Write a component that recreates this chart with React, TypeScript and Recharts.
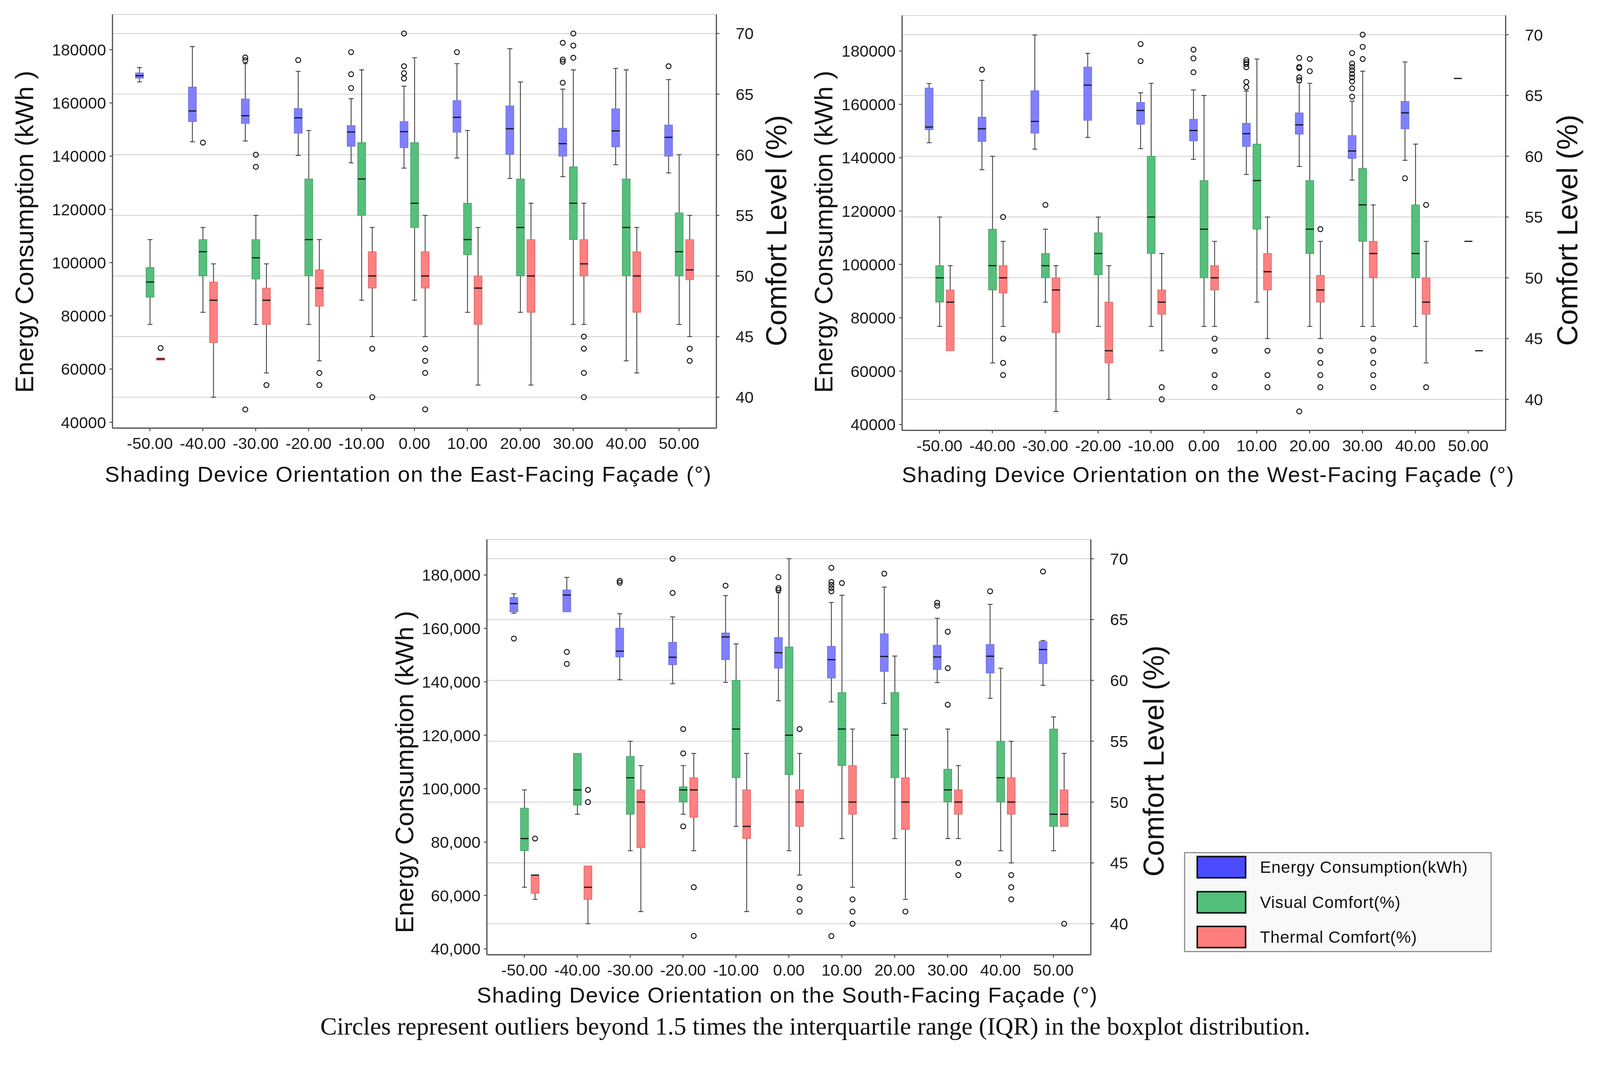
import React from 'react';
import { ComposedChart, Bar, XAxis, YAxis, CartesianGrid, Legend } from 'recharts';

// ---------- shared categories / ticks ----------
const ANGLES = ['-50.00', '-40.00', '-30.00', '-20.00', '-10.00', '0.00', '10.00', '20.00', '30.00', '40.00', '50.00'];
const ENERGY_TICKS = [40000, 60000, 80000, 100000, 120000, 140000, 160000, 180000];
const COMFORT_TICKS = [40, 45, 50, 55, 60, 65, 70];
const ENERGY_DOMAIN: [number, number] = [37800, 193300];
const COMFORT_DOMAIN: [number, number] = [37.45, 71.58];

// box = [lower whisker, Q1, median, Q3, upper whisker]
// ---------- East-facing ----------
const EAST_ENERGY = [
  [167900, 169300, 170250, 171300, 173300],
  [145400, 153000, 157000, 166000, 181200],
  [145700, 152300, 155200, 161500, 174800],
  [140300, 148650, 154400, 157900, 171900],
  [137500, 143700, 149100, 151500, 161600],
  [135500, 143200, 149200, 153000, 166300],
  [139300, 149000, 154600, 160900, 174800],
  [131600, 140700, 150300, 158900, 180400],
  [132300, 140000, 144700, 150500, 165200],
  [136800, 143500, 149500, 157800, 173000],
  [133700, 140000, 147100, 151700, 168800],
];
const EAST_ENERGY_OUT = [[], [], [177100, 176000, 44800], [176100], [179100, 170800, 165600], [186100, 173800, 171200, 169200], [179100], [], [182600, 176300, 175500, 167600], [], [173800]];
const EAST_VISUAL = [
  [46.0, 48.25, 49.5, 50.7, 53.0],
  [47.0, 50.0, 52.0, 53.0, 54.0],
  [46.0, 49.75, 51.5, 53.0, 55.0],
  [46.0, 50.0, 53.0, 58.0, 62.0],
  [48.0, 55.0, 58.0, 61.0, 67.0],
  [48.0, 54.0, 56.0, 61.0, 68.0],
  [47.0, 51.75, 53.0, 56.0, 62.0],
  [47.0, 50.0, 54.0, 58.0, 66.0],
  [46.0, 53.0, 56.0, 59.0, 67.0],
  [43.0, 50.0, 54.0, 58.0, 67.0],
  [46.0, 50.0, 52.0, 55.2, 60.0],
];
const EAST_VISUAL_OUT = [[], [61], [60, 59], [], [], [], [], [], [70, 69, 68], [], []];
const EAST_THERMAL = [
  [43.05, 43.05, 43.15, 43.25, 43.25],
  [40.0, 44.5, 48.0, 49.5, 51.0],
  [42.0, 46.0, 48.0, 49.0, 51.0],
  [43.0, 47.5, 49.0, 50.5, 53.0],
  [45.0, 49.0, 50.0, 52.0, 54.0],
  [45.0, 49.0, 50.0, 52.0, 55.0],
  [41.0, 46.0, 49.0, 50.0, 54.0],
  [41.0, 47.0, 50.0, 53.0, 56.0],
  [46.0, 50.0, 51.0, 53.0, 56.0],
  [42.0, 47.0, 50.0, 52.0, 54.0],
  [45.0, 49.7, 50.5, 53.0, 55.0],
];
const EAST_THERMAL_OUT = [[44.05], [], [41], [42, 41], [44, 40], [44, 43, 42, 39], [], [], [45, 44, 42, 40], [], [44, 43]];

// ---------- West-facing ----------
const WEST_ENERGY = [
  [145600, 150500, 151500, 166100, 167800],
  [135500, 146100, 150800, 155200, 169000],
  [143200, 149200, 153600, 165100, 186000],
  [147600, 154000, 167200, 174000, 179100],
  [143400, 152500, 157700, 160700, 164300],
  [139400, 146300, 150200, 154400, 165400],
  [133700, 144200, 149000, 152900, 165000],
  [136700, 148800, 152300, 156800, 168100],
  [131600, 139700, 142500, 148300, 161200],
  [139000, 150800, 156800, 161100, 175900],
  [169700, 169700, 169700, 169700, 169700],
];
const WEST_ENERGY_OUT = [[], [173000], [], [], [182600, 176200], [180500, 177200, 172000], [176600, 175800, 175100, 173900, 168400, 166400], [177400, 174000, 173600, 170100, 169000, 44900], [179200, 175300, 174000, 172800, 171400, 170100, 168600, 166000, 162900], [132300], []];
const WEST_VISUAL = [
  [46.0, 48.0, 50.0, 51.0, 55.0],
  [43.0, 49.0, 51.0, 54.0, 60.0],
  [48.0, 50.0, 51.0, 52.0, 54.0],
  [46.0, 50.25, 52.0, 53.7, 55.0],
  [46.0, 52.0, 55.0, 60.0, 66.0],
  [46.0, 50.0, 54.0, 58.0, 65.0],
  [48.0, 54.0, 58.0, 61.0, 68.0],
  [46.0, 52.0, 54.0, 58.0, 66.0],
  [46.0, 53.0, 56.0, 59.0, 67.0],
  [46.0, 50.0, 52.0, 56.0, 61.0],
  [53.0, 53.0, 53.0, 53.0, 53.0],
];
const WEST_VISUAL_OUT = [[], [], [56], [], [], [], [], [68, 67], [70, 69, 68], [], []];
const WEST_THERMAL = [
  [44.0, 44.0, 48.0, 49.0, 51.0],
  [46.0, 48.75, 50.0, 51.0, 53.0],
  [39.0, 45.5, 49.0, 50.0, 51.0],
  [40.0, 43.0, 44.0, 48.0, 51.0],
  [44.0, 47.0, 48.0, 49.0, 52.0],
  [46.0, 49.0, 50.0, 51.0, 53.0],
  [45.0, 49.0, 50.5, 52.0, 55.0],
  [45.0, 48.0, 49.0, 50.2, 53.0],
  [46.0, 50.0, 52.0, 53.0, 56.0],
  [43.0, 47.0, 48.0, 50.0, 53.0],
  [44.0, 44.0, 44.0, 44.0, 44.0],
];
const WEST_THERMAL_OUT = [[], [55, 45, 43, 42], [], [], [41, 40], [45, 44, 42, 41], [44, 42, 41], [54, 44, 43, 42, 41], [45, 44, 43, 42, 41], [56, 41], []];

// ---------- South-facing ----------
const SOUTH_ENERGY = [
  [165700, 166200, 169300, 171600, 173000],
  [166200, 166200, 172500, 174400, 179100],
  [140800, 149300, 151500, 160100, 165500],
  [139300, 146400, 149200, 154800, 164300],
  [139800, 148300, 156800, 158300, 172300],
  [132900, 145100, 150900, 156600, 173300],
  [132500, 141400, 148300, 153300, 169700],
  [131900, 143900, 149500, 158000, 175500],
  [139700, 144600, 149300, 153700, 163800],
  [133800, 143300, 149600, 154000, 169000],
  [138700, 146800, 152100, 155100, 155500],
];
const SOUTH_ENERGY_OUT = [[156200], [151200, 146700], [177800, 177100], [186100, 173300], [176000], [179200, 175100, 174400], [182700, 177400, 176300, 175100, 173900, 44800], [180500], [169600, 168500], [173900], [181300]];
const SOUTH_VISUAL = [
  [43.0, 46.0, 47.0, 49.5, 51.0],
  [49.0, 49.75, 51.0, 54.0, 54.0],
  [46.0, 49.0, 52.0, 53.75, 55.0],
  [49.0, 50.0, 51.0, 51.25, 53.0],
  [48.0, 52.0, 56.0, 60.0, 63.0],
  [46.0, 52.25, 55.5, 62.75, 70.0],
  [47.0, 53.0, 56.0, 59.0, 67.0],
  [47.0, 52.0, 55.5, 59.0, 62.0],
  [47.0, 50.0, 51.0, 52.7, 56.0],
  [46.0, 50.0, 52.0, 55.0, 61.0],
  [46.0, 48.0, 49.0, 56.0, 57.0],
];
const SOUTH_VISUAL_OUT = [[], [], [], [56, 54, 48], [], [], [68], [], [64, 61, 58], [], []];
const SOUTH_THERMAL = [
  [42.0, 42.5, 44.0, 44.0, 44.0],
  [40.0, 42.0, 43.0, 44.75, 44.75],
  [41.0, 46.25, 50.0, 51.0, 53.0],
  [46.0, 48.75, 51.0, 52.0, 54.0],
  [41.0, 47.0, 48.0, 51.0, 54.0],
  [44.0, 48.0, 50.0, 51.0, 54.0],
  [43.0, 49.0, 50.0, 53.0, 56.0],
  [42.0, 47.75, 50.0, 52.0, 56.0],
  [47.0, 49.0, 50.0, 51.0, 53.0],
  [45.0, 49.0, 50.0, 52.0, 55.0],
  [48.0, 48.0, 49.0, 51.0, 54.0],
];
const SOUTH_THERMAL_OUT = [[47], [51, 50], [], [43, 39], [], [56, 43, 42, 41], [42, 41, 40], [41], [45, 44], [44, 43, 42], [40]];

const LEGEND_ITEMS = [
  { name: 'Energy Consumption(kWh)', color: '#4b4bff' },
  { name: 'Visual Comfort(%)', color: '#52c07a' },
  { name: 'Thermal Comfort(%)', color: '#ff7d7d' },
];

const CAPTION = 'Circles represent outliers beyond 1.5 times the interquartile range (IQR) in the boxplot distribution.';

// ---------- helpers ----------
const PAGE_W = 4239;
const PAGE_H = 2777;
const FONT = "'Liberation Sans', Arial, Helvetica, sans-serif";
const SERIF = "'Liberation Serif', 'Times New Roman', serif";
const AXIS_COLOR = '#4a4a4a';

function buildRows(
  energy: number[][], energyOut: number[][],
  visual: number[][], visualOut: number[][],
  thermal: number[][], thermalOut: number[][],
) {
  return ANGLES.map((angle, i) => ({
    angle,
    energy: energy[i], energyOut: energyOut[i],
    visual: visual[i], visualOut: visualOut[i],
    thermal: thermal[i], thermalOut: thermalOut[i],
  }));
}

function makeBoxShape(field: 'energy' | 'visual' | 'thermal', domain: [number, number], fill: string, stroke: string) {
  return (props: any) => {
    const { x, y, width, height, payload } = props;
    if (x == null || y == null || !payload || !payload[field]) return <g />;
    const [lo, q1, med, q3, hi] = payload[field] as number[];
    const outs: number[] = payload[field + 'Out'] || [];
    const top = Math.min(y, y + height);
    const span = Math.abs(height);
    const py = (v: number) => top + ((domain[1] - v) / (domain[1] - domain[0])) * span;
    const cx = x + width / 2;
    const cap = width * 0.62;
    const wl = { stroke: '#3a3a3a', strokeWidth: 2.2 };
    return (
      <g>
        {hi > q3 && <line x1={cx} x2={cx} y1={py(hi)} y2={py(q3)} {...wl} />}
        {hi > q3 && <line x1={cx - cap / 2} x2={cx + cap / 2} y1={py(hi)} y2={py(hi)} {...wl} />}
        {lo < q1 && <line x1={cx} x2={cx} y1={py(q1)} y2={py(lo)} {...wl} />}
        {lo < q1 && <line x1={cx - cap / 2} x2={cx + cap / 2} y1={py(lo)} y2={py(lo)} {...wl} />}
        {q3 > q1 && (
          <rect x={x} y={py(q3)} width={width} height={py(q1) - py(q3)} fill={fill} stroke={stroke} strokeWidth={1.5} />
        )}
        <line x1={x} x2={x + width} y1={py(med)} y2={py(med)} stroke="#111" strokeWidth={3} />
        {outs.map((v, k) => (
          <circle key={k} cx={cx} cy={py(v)} r={6.5} fill="none" stroke="#111" strokeWidth={2.5} />
        ))}
      </g>
    );
  };
}

const ENERGY_SHAPE = makeBoxShape('energy', ENERGY_DOMAIN, '#8080ff', '#6a6ad0');
const VISUAL_SHAPE = makeBoxShape('visual', COMFORT_DOMAIN, '#55bf7b', '#3f9a60');
const THERMAL_SHAPE = makeBoxShape('thermal', COMFORT_DOMAIN, '#ff8080', '#d06464');

const VTitle = (p: any) => (
  <text
    x={p.cx}
    y={p.cy}
    transform={`rotate(-90 ${p.cx} ${p.cy})`}
    textAnchor="middle"
    dominantBaseline="central"
    fontFamily={FONT}
    fontSize={p.size}
    fill="#111"
  >
    {p.text}
  </text>
);

const XTitle = (p: any) => (
  <text x={p.cx} y={p.by} textAnchor="middle" fontFamily={FONT} fontSize={58} letterSpacing={2} fill="#111">
    {p.text}
  </text>
);

const LegendBox = () => (
  <div
    style={{
      width: 815,
      height: 265,
      boxSizing: 'border-box',
      border: '3px solid #8c8c8c',
      background: '#f9f9f9',
      position: 'relative',
      fontFamily: FONT,
    }}
  >
    {LEGEND_ITEMS.map((it, i) => (
      <div key={it.name} style={{ position: 'absolute', left: 30, top: 7 + i * 92.5, height: 60, display: 'flex', alignItems: 'center' }}>
        <div style={{ width: 132, height: 60, boxSizing: 'border-box', background: it.color, border: '4px solid #111' }} />
        <span style={{ marginLeft: 36, fontSize: 44, color: '#111', letterSpacing: 1, whiteSpace: 'nowrap' }}>{it.name}</span>
      </div>
    ))}
  </div>
);

const tickStyle = { fontFamily: FONT, fontSize: 43, fill: '#1a1a1a' };

type PanelProps = {
  rows: any[];
  left: number; top: number; width: number; height: number;
  marginTop: number; marginRight: number;
  leftW: number; rightW: number; xH: number;
  xTitle: string; xTitleX: number; xTitleY: number;
  lTitleX: number; lTitleY: number;
  rTitleX: number; rTitleY: number;
  commas?: boolean;
  legend?: boolean;
};

function Panel(p: PanelProps) {
  const fmt = (v: number) => (p.commas ? v.toLocaleString('en-US') : String(v));
  return (
    <div style={{ position: 'absolute', left: p.left, top: p.top }}>
      <ComposedChart
        width={p.width}
        height={p.height}
        data={p.rows}
        margin={{ top: p.marginTop, right: p.marginRight, bottom: 0, left: 0 }}
        barGap={7}
      >
        <CartesianGrid yAxisId="comfort" vertical={false} stroke="#cdcdcd" strokeWidth={2} />
        <XAxis
          dataKey="angle"
          interval={0}
          height={p.xH}
          padding={{ left: 29, right: 29 }}
          tick={tickStyle}
          tickSize={8}
          tickMargin={17}
          axisLine={{ stroke: AXIS_COLOR, strokeWidth: 3 }}
          tickLine={{ stroke: AXIS_COLOR, strokeWidth: 2.5 }}
          label={<XTitle text={p.xTitle} cx={p.xTitleX} by={p.xTitleY} />}
        />
        <XAxis
          xAxisId="top"
          orientation="top"
          dataKey="angle"
          height={0}
          tick={false}
          tickLine={false}
          padding={{ left: 29, right: 29 }}
          axisLine={{ stroke: AXIS_COLOR, strokeWidth: 3 }}
        />
        <YAxis
          yAxisId="energy"
          width={p.leftW}
          domain={ENERGY_DOMAIN}
          allowDataOverflow
          ticks={ENERGY_TICKS}
          interval={0}
          tickFormatter={fmt}
          tick={tickStyle}
          tickSize={8}
          tickMargin={9}
          axisLine={{ stroke: AXIS_COLOR, strokeWidth: 3 }}
          tickLine={{ stroke: AXIS_COLOR, strokeWidth: 2.5 }}
          label={<VTitle text="Energy Consumption (kWh )" cx={p.lTitleX} cy={p.lTitleY} size={68} />}
        />
        <YAxis
          yAxisId="comfort"
          orientation="right"
          width={p.rightW}
          domain={COMFORT_DOMAIN}
          allowDataOverflow
          ticks={COMFORT_TICKS}
          interval={0}
          tick={tickStyle}
          tickSize={8}
          tickMargin={43}
          axisLine={{ stroke: AXIS_COLOR, strokeWidth: 3 }}
          tickLine={{ stroke: AXIS_COLOR, strokeWidth: 2.5 }}
          label={<VTitle text="Comfort Level (%)" cx={p.rTitleX} cy={p.rTitleY} size={76} />}
        />
        <Bar
          yAxisId="energy"
          name="Energy Consumption(kWh)"
          dataKey={() => ENERGY_DOMAIN}
          barSize={21}
          fill="#4b4bff"
          shape={ENERGY_SHAPE}
          isAnimationActive={false}
        />
        <Bar
          yAxisId="comfort"
          name="Visual Comfort(%)"
          dataKey={() => COMFORT_DOMAIN}
          barSize={21}
          fill="#52c07a"
          shape={VISUAL_SHAPE}
          isAnimationActive={false}
        />
        <Bar
          yAxisId="comfort"
          name="Thermal Comfort(%)"
          dataKey={() => COMFORT_DOMAIN}
          barSize={21}
          fill="#ff7d7d"
          shape={THERMAL_SHAPE}
          isAnimationActive={false}
        />
        {p.legend && (
          <Legend
            layout="vertical"
            align="center"
            verticalAlign="middle"
            content={() => <LegendBox />}
            wrapperStyle={{ position: 'absolute', left: 2137, top: 857, width: 815, height: 265 }}
          />
        )}
      </ComposedChart>
    </div>
  );
}

const EAST_ROWS = buildRows(EAST_ENERGY, EAST_ENERGY_OUT, EAST_VISUAL, EAST_VISUAL_OUT, EAST_THERMAL, EAST_THERMAL_OUT);
const WEST_ROWS = buildRows(WEST_ENERGY, WEST_ENERGY_OUT, WEST_VISUAL, WEST_VISUAL_OUT, WEST_THERMAL, WEST_THERMAL_OUT);
const SOUTH_ROWS = buildRows(SOUTH_ENERGY, SOUTH_ENERGY_OUT, SOUTH_VISUAL, SOUTH_VISUAL_OUT, SOUTH_THERMAL, SOUTH_THERMAL_OUT);

function fitScale() {
  if (typeof window === 'undefined') return 1;
  const w = window.innerWidth;
  const h = window.innerHeight;
  if (!w || !h) return 1;
  const s = Math.min(1, w / PAGE_W, h / PAGE_H);
  return s > 0.5 ? s : 1;
}

export default function App() {
  const s = fitScale();
  return (
    <div style={{ position: 'fixed', left: 0, top: 0, width: PAGE_W * s, height: PAGE_H * s, overflow: 'hidden', background: '#fff' }}>
      <div style={{ position: 'absolute', left: 0, top: 0, width: PAGE_W, height: PAGE_H, transform: `scale(${s})`, transformOrigin: '0 0' }}>
        <Panel
          rows={EAST_ROWS}
          left={0} top={0} width={2140} height={1300}
          marginTop={38} marginRight={0}
          leftW={298} rightW={242} xH={166}
          xTitle="Shading Device Orientation on the East-Facing Façade (°)" xTitleX={1082} xTitleY={1276}
          lTitleX={65} lTitleY={614}
          rTitleX={2057} rTitleY={611}
        />
        <Panel
          rows={WEST_ROWS}
          left={2140} top={0} width={2099} height={1300}
          marginTop={41} marginRight={0}
          leftW={250} rightW={250} xH={160}
          xTitle="Shading Device Orientation on the West-Facing Façade (°)" xTitleX={1061} xTitleY={1277}
          lTitleX={42} lTitleY={614}
          rTitleX={2013} rTitleY={610}
        />
        <Panel
          rows={SOUTH_ROWS}
          left={1000} top={1400} width={3000} height={1300}
          marginTop={29} marginRight={850}
          leftW={290} rightW={260} xH={171}
          xTitle="Shading Device Orientation on the South-Facing Façade (°)" xTitleX={1086} xTitleY={1256}
          lTitleX={72} lTitleY={645}
          rTitleX={2057} rTitleY={616}
          commas
          legend
        />
        <div
          style={{
            position: 'absolute',
            left: 160,
            top: 2685,
            width: 4000,
            textAlign: 'center',
            fontFamily: SERIF,
            fontSize: 66,
            lineHeight: 1,
            color: '#111',
            whiteSpace: 'nowrap',
          }}
        >
          {CAPTION}
        </div>
      </div>
    </div>
  );
}
